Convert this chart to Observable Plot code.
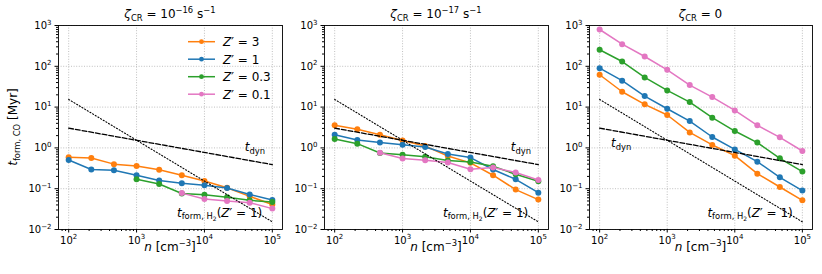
<!DOCTYPE html>
<html>
<head>
<meta charset="utf-8">
<script src="https://cdn.jsdelivr.net/npm/d3@7"></script>
<script src="https://cdn.jsdelivr.net/npm/@observablehq/plot@0.6"></script>
<style>
  html, body { margin: 0; padding: 0; background: white; }
  #wrap { position: relative; width: 822px; height: 274px; overflow: hidden; background: white; }
  #wrap svg { position: absolute; top: 0; }
</style>
</head>
<body>
<div id="wrap"></div>
<script>
// ---------- data ----------
const densities = [100, 215.4, 464.2, 1000, 2154, 4642, 10000, 21544, 46416, 100000];
const zLabels = ["3", "1", "0.3", "0.1"];
const zColors = ["#ff7f0e", "#1f77b4", "#2ca02c", "#e377c2"];

// panel 1 : zeta = 1e-16
const p1_Z3  = [0.59, 0.565, 0.40, 0.36, 0.29, 0.214, 0.155, 0.105, 0.065, 0.041];
const p1_Z1  = [0.505, 0.295, 0.283, 0.214, 0.158, 0.136, 0.121, 0.104, 0.072, 0.053];
const p1_Z03 = [null, null, null, 0.17, 0.13, 0.076, 0.071, 0.062, 0.052, 0.047];
const p1_Z01 = [null, null, null, null, null, 0.078, 0.056, 0.050, 0.0455, 0.0325];
// panel 2 : zeta = 1e-17
const p2_Z3  = [3.57, 2.85, 2.11, 1.51, 1.11, 0.63, 0.43, 0.214, 0.095, 0.054];
const p2_Z1  = [2.11, 1.56, 1.35, 1.20, 1.05, 0.71, 0.58, 0.295, 0.17, 0.080];
const p2_Z03 = [1.65, 1.27, 0.75, 0.68, 0.61, 0.49, 0.45, 0.355, 0.225, 0.152];
const p2_Z01 = [null, null, 0.76, 0.55, 0.50, 0.44, 0.30, 0.33, 0.25, 0.164];
// panel 3 : zeta = 0
const p3_Z3  = [62, 23.8, 11.7, 6.4, 2.4, 1.18, 0.645, 0.234, 0.11, 0.052];
const p3_Z1  = [90, 44.4, 18.6, 9.1, 4.55, 1.85, 0.92, 0.46, 0.19, 0.09];
const p3_Z03 = [254, 131, 53.4, 25.6, 13.3, 5.5, 2.59, 1.35, 0.556, 0.263];
const p3_Z01 = [798, 349, 174, 82, 34.6, 17.6, 8.3, 3.57, 1.82, 0.84];

// reference time scales
const refN = [100, 100000];
const tDyn = [3.05, 0.39];
const tFormH2 = [15.4, 0.0154];

// ticks
const xMajor = [1e2, 1e3, 1e4, 1e5];
const xMinor = [80, 90, 200, 300, 400, 500, 600, 700, 800, 900,
  2000, 3000, 4000, 5000, 6000, 7000, 8000, 9000,
  20000, 30000, 40000, 50000, 60000, 70000, 80000, 90000];
const yMajor = [1e-2, 1e-1, 1e0, 1e1, 1e2, 1e3];
const yMinor = [];
for (const dec of [1e-2, 1e-1, 1e0, 1e1, 1e2]) for (let k = 2; k <= 9; k++) yMinor.push(+(k * dec).toPrecision(3));

// annotation anchors (data coordinates)
const panels = [
  {title: "16", series: [p1_Z3, p1_Z1, p1_Z03, p1_Z01], left: 0, width: 290, ml: 58, mr: 8,
   dynAt: [40000, 0.8], h2At: [4000, 0.02], ylabel: true, legend: true},
  {title: "17", series: [p2_Z3, p2_Z1, p2_Z03, p2_Z01], left: 290, width: 266, ml: 34, mr: 8,
   dynAt: [40000, 0.8], h2At: [4000, 0.02]},
  {title: null, series: [p3_Z3, p3_Z1, p3_Z03, p3_Z01], left: 556, width: 266, ml: 33, mr: 10,
   dynAt: [150, 1.0], h2At: [4000, 0.02]}
];

// ---------- helpers ----------
const FONT = "DejaVu Sans";
function rich(textSel, parts, size) {
  let cur = 0;
  for (const [txt, opt = {}] of parts) {
    let scale = 1, shift = 0;
    if (opt.sub) { scale = 0.7; shift = -0.22; }
    if (opt.subsub) { scale = 0.5; shift = -0.36; }
    if (opt.sup) { scale = 0.7; shift = 0.42; }
    const ts = textSel.append("tspan").text(txt).attr("font-size", size * scale);
    const target = -shift * size;
    if (target - cur !== 0) ts.attr("dy", target - cur);
    cur = target;
    if (opt.italic) ts.attr("font-style", "italic");
  }
  return textSel;
}
const lineStyle = {strokeWidth: 1.5};
const gridStyle = {stroke: "#b0b0b0", strokeOpacity: 1, strokeWidth: 0.8, strokeDasharray: "1,1.6"};

const wrap = document.getElementById("wrap");

for (const P of panels) {
  const marks = [
    Plot.gridX(xMajor, gridStyle),
    Plot.gridY(yMajor, gridStyle),
  ];
  P.series.forEach((vals, i) => {
    const rows = densities.map((n, j) => ({n, t: vals[j]})).filter(d => d.t != null);
    marks.push(Plot.line(rows, {x: "n", y: "t", stroke: zColors[i], ...lineStyle}));
    marks.push(Plot.dot(rows, {x: "n", y: "t", fill: zColors[i], r: 3}));
  });
  const dynRows = refN.map((n, j) => ({n, t: tDyn[j]}));
  const h2Rows = refN.map((n, j) => ({n, t: tFormH2[j]}));
  marks.push(Plot.line(dynRows, {x: "n", y: "t", stroke: "black", strokeWidth: 1.3, strokeDasharray: "4.8,2"}));
  marks.push(Plot.line(h2Rows, {x: "n", y: "t", stroke: "black", strokeWidth: 1.1, strokeDasharray: "1.1,2"}));
  marks.push(
    Plot.axisX(xMajor, {tickSize: 3.5, tickPadding: 3.5, tickFormat: d => String(Math.round(Math.log10(d))), label: null, fontSize: 10}),
    Plot.axisX(xMinor, {tickSize: 2, tickFormat: () => "", label: null}),
    Plot.axisY(yMajor, {tickSize: 3.5, tickPadding: 3.5, tickFormat: d => String(Math.round(Math.log10(d))), label: null, fontSize: 10}),
    Plot.axisY(yMinor, {tickSize: 2, tickFormat: () => "", label: null}),
    Plot.frame({stroke: "black", strokeWidth: 0.9})
  );

  const chart = Plot.plot({
    width: P.width, height: 274,
    marginLeft: P.ml, marginRight: P.mr, marginTop: 25, marginBottom: 45,
    x: {type: "log", domain: [Math.pow(10, 1.85), Math.pow(10, 5.15)], label: null},
    y: {type: "log", domain: [1e-2, 1e3], label: null},
    style: {fontFamily: FONT, fontSize: "10px", color: "black", background: "white", overflow: "visible"},
    marks
  });
  chart.style.left = P.left + "px";
  wrap.appendChild(chart);

  const svg = d3.select(chart);
  // tick labels with superscripts
  svg.selectAll("g[aria-label$='tick label'] text").each(function () {
    if (this.textContent === "") return;
    const e = +this.textContent;
    const s = d3.select(this);
    s.text("");
    rich(s, [["10"], [e < 0 ? "\u2212" + Math.abs(e) : String(e), {sup: true}]], 10);
  });

  const sx = chart.scale("x"), sy = chart.scale("y");
  const fx0 = P.ml, fx1 = P.width - P.mr, cx = (fx0 + fx1) / 2;
  const g = svg.append("g").attr("font-family", FONT).attr("fill", "black").attr("text-anchor", "start");

  // title
  const tParts = P.title
    ? [["ζ", {italic: true}], ["CR", {sub: true}], [" = 10"], ["\u2212" + P.title, {sup: true}], [" s"], ["\u22121", {sup: true}]]
    : [["ζ", {italic: true}], ["CR", {sub: true}], [" = 0"]];
  rich(g.append("text").attr("x", cx).attr("y", 18).attr("text-anchor", "middle"), tParts, 12);

  // x label
  rich(g.append("text").attr("x", cx).attr("y", 251).attr("text-anchor", "middle"),
    [["n", {italic: true}], [" [cm"], ["\u22123", {sup: true}], ["]"]], 12);

  // y label
  if (P.ylabel) {
    rich(g.append("text").attr("transform", `translate(17,127) rotate(-90)`).attr("text-anchor", "middle"),
      [["t", {italic: true}], ["form, CO", {sub: true}], [" [Myr]"]], 12);
  }

  // annotations
  rich(g.append("text").attr("x", sx.apply(P.dynAt[0])).attr("y", sy.apply(P.dynAt[1])),
    [["t", {italic: true}], ["dyn", {sub: true}]], 12);
  rich(g.append("text").attr("x", sx.apply(P.h2At[0])).attr("y", sy.apply(P.h2At[1])),
    [["t", {italic: true}], ["form, H", {sub: true}], ["2", {subsub: true}], ["("], ["Z", {italic: true}], ["\u2032 = 1)"]], 12);

  // legend
  if (P.legend) {
    zLabels.forEach((lab, i) => {
      const yy = 41.7 + i * 17.5;
      g.append("line").attr("x1", 188).attr("x2", 215).attr("y1", yy).attr("y2", yy)
        .attr("stroke", zColors[i]).attr("stroke-width", 1.5);
      g.append("circle").attr("cx", 201.5).attr("cy", yy).attr("r", 2.4).attr("fill", zColors[i]);
      rich(g.append("text").attr("x", 223).attr("y", yy + 4.3),
        [["Z", {italic: true}], ["\u2032 = " + lab]], 12);
    });
  }
}
</script>
</body>
</html>
